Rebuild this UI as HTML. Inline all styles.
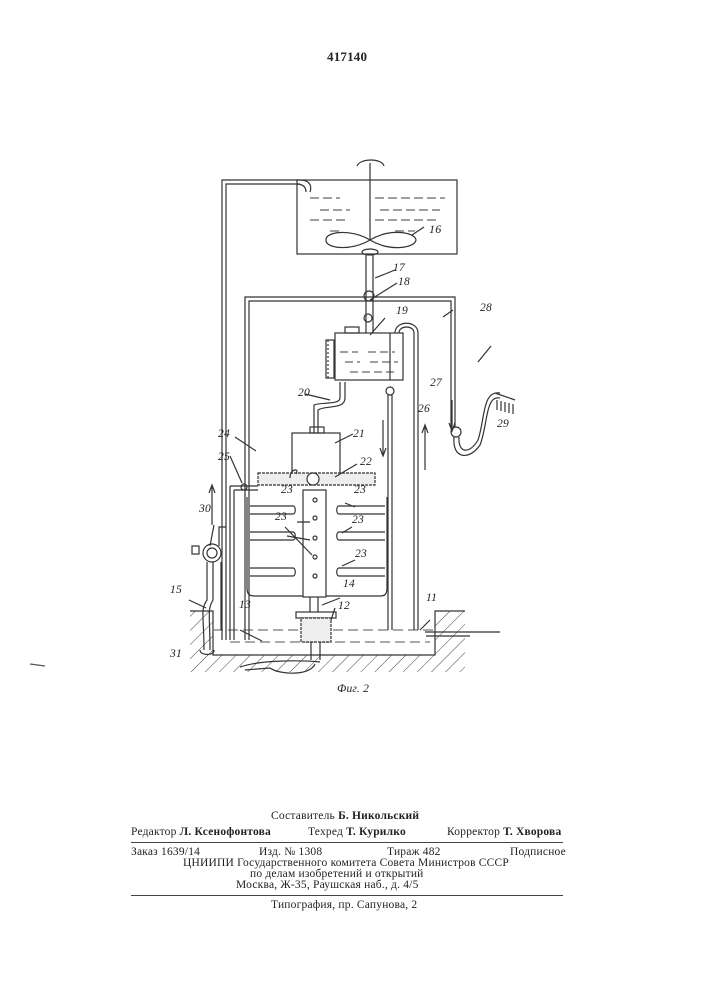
<!DOCTYPE html>
<html><head><meta charset="utf-8"><style>
html,body{margin:0;padding:0;background:#fff}
body{width:707px;height:1000px;position:relative;overflow:hidden;font-family:"Liberation Serif",serif;color:#222}
.t{position:absolute;white-space:nowrap;font-size:11.5px;letter-spacing:0.2px}
b{font-weight:bold}
</style></head><body>
<div class="t" style="left:327px;top:49px;font-size:13px;font-weight:bold">417140</div>
<svg width="707" height="1000" style="position:absolute;left:0;top:0" fill="none" stroke="#333" stroke-width="1.2" font-family="Liberation Sans, sans-serif" font-style="italic" font-size="11">
<defs><pattern id="h" width="10" height="10" patternUnits="userSpaceOnUse" patternTransform="rotate(45)"><line x1="0" y1="0" x2="0" y2="10" stroke="#444" stroke-width="1"/></pattern></defs>
<!-- ground -->
<path d="M190 611 H213 V655 H435 V611 H465 V672 H190 Z" fill="url(#h)" stroke="none"/>
<path d="M190 611 H213 V655 H435 V611 H465"/>
<path d="M213 630 H435 M230 642 H430" stroke-dasharray="10 5" stroke="#777"/>
<!-- tank 16 -->
<rect x="297" y="180" width="160" height="74"/>
<path d="M370 163 V240 M357 166 C360 158 382 158 384 166" />
<path d="M310 198 H340 M375 198 H445 M320 210 H350 M380 210 H440 M310 220 H345 M375 220 H440 M330 231 H340 M395 231 H415" stroke="#666" stroke-dasharray="9 4"/>
<path d="M370 240 C350 228 325 232 326 240 C325 248 350 252 370 240 C390 228 415 232 416 240 C415 248 390 252 370 240" />
<ellipse cx="370" cy="252" rx="8" ry="3"/>
<!-- pipe 17 -->
<path d="M366 255 V333 M373 255 V333"/>
<circle cx="369" cy="296" r="5"/><circle cx="368" cy="318" r="4"/>
<!-- left pipe 24 -->
<path d="M300 180 H222 V640 M300 184 H226 V640 M300 180 C310 180 312 186 310 192 M296 184 C304 184 306 188 306 192"/>
<!-- frame loop -->
<path d="M245 640 V297 H455 V427 M249 640 V301 H451 V427"/>
<circle cx="456" cy="432" r="5"/>
<path d="M454 437 C452 460 470 460 480 445 C488 425 485 395 500 398 M459 437 C458 454 470 454 478 440 C485 420 482 390 500 393"/>
<path d="M495 393 L515 400 M497 400 V410 M501 401 V411 M505 402 V412 M509 403 V413 M513 404 V414"/>
<!-- 19 box -->
<rect x="335" y="333" width="68" height="47"/>
<rect x="326" y="340" width="8" height="38"/><path d="M328 340 V378" stroke-dasharray="2 2"/>
<rect x="345" y="327" width="14" height="6"/>
<path d="M340 352 H358 M368 352 H395 M345 362 H360 M370 362 H398 M350 372 H398" stroke="#666" stroke-dasharray="8 4"/>
<!-- 26/27 pipes -->
<path d="M395 333 C395 320 418 320 418 333 V630 M399 333 C399 325 414 325 414 333 V630"/>
<circle cx="390" cy="391" r="4"/>
<path d="M388 395 V630 M392 395 V630"/>
<path d="M390 333 V380"/>
<path d="M383 420 V455 M380 448 L383 456 L386 448 M425 425 V470 M422 433 L425 425 L428 433 M452 400 V430 M449 423 L452 431 L455 423 M212 485 V525 M209 493 L212 485 L215 493"/>
<!-- 20 & 21 -->
<path d="M340 382 V398 C340 405 320 402 314 405 V433 M345 382 V398 C345 410 325 405 318 410 V433"/>
<rect x="292" y="433" width="48" height="42"/><rect x="310" y="427" width="14" height="6"/>
<!-- 22 plate -->
<rect x="258" y="473" width="117" height="12" fill="#eee" stroke-dasharray="3 1"/>
<circle cx="313" cy="479" r="6" fill="#fff"/>
<path d="M290 478 C290 468 300 468 296 474"/>
<!-- 25 -->
<path d="M230 486 H258 M234 490 H258 M230 486 V640 M234 490 V640"/>
<circle cx="244" cy="487" r="3"/>
<!-- 23 frame -->
<path d="M247 497 V588 C247 595 250 596 255 596 H303 M387 497 V588 C387 595 384 596 380 596 H326"/>
<rect x="303" y="490" width="23" height="107"/>
<g fill="#fff"><circle cx="315" cy="500" r="2"/><circle cx="315" cy="518" r="2"/><circle cx="315" cy="538" r="2"/><circle cx="315" cy="557" r="2"/><circle cx="315" cy="576" r="2"/></g>
<path d="M250 506 H293 C296 506 296 514 293 514 H250 M250 532 H293 C296 532 296 540 293 540 H250 M250 568 H293 C296 568 296 576 293 576 H250"/>
<path d="M339 506 H385 M339 514 H385 M339 506 C336 506 336 514 339 514 M339 532 H385 M339 540 H385 M339 532 C336 532 336 540 339 540 M339 568 H385 M339 576 H385 M339 568 C336 568 336 576 339 576"/>
<!-- shaft 14/12 -->
<path d="M310 597 V612 M318 597 V612"/>
<rect x="296" y="612" width="40" height="6"/>
<rect x="301" y="618" width="30" height="24" fill="#eee" stroke-dasharray="3 1"/>
<path d="M311 642 V660 M320 642 V660"/>
<!-- pump 30 & 15/31 -->
<circle cx="212" cy="553" r="9"/><circle cx="212" cy="553" r="5"/>
<rect x="192" y="546" width="7" height="8"/>
<path d="M219 546 V527 H226 M221 562 V630 M207 562 V600 C200 610 204 615 204 650 M213 562 V600 C207 610 210 615 210 650"/>
<path d="M200 650 C200 656 215 656 214 650"/>
<path d="M240 667 C260 660 300 660 320 662 M245 670 L270 668 C280 675 310 676 315 664"/>
<path d="M425 632 H470 M426 636 H470 M470 632 H500"/>
<!-- leaders -->
<path d="M424 227 L412 235 M395 270 L375 278 M397 283 L370 300 M385 318 L370 335 M453 310 L443 317 M305 394 L330 400 M353 434 L335 443 M357 464 L335 477 M235 437 L256 451 M230 456 L242 483 M214 525 L210 546 M189 600 L206 608 M240 630 L262 641 M312 555 L285 527 M287 536 L310 540 M297 522 L310 522 M355 507 L345 503 M352 527 L342 533 M355 560 L342 566 M340 598 L322 605 M335 608 L331 620 M430 620 L420 630 M491 346 L478 362"/>
<path d="M30 664 L45 666" stroke="#555"/>
</svg>
<div class="t" style="left:429px;top:222px;font-style:italic;font-size:12px">16</div>
<div class="t" style="left:393px;top:262px;font-style:italic">17</div>
<div class="t" style="left:398px;top:276px;font-style:italic">18</div>
<div class="t" style="left:396px;top:305px;font-style:italic">19</div>
<div class="t" style="left:480px;top:302px;font-style:italic">28</div>
<div class="t" style="left:430px;top:377px;font-style:italic">27</div>
<div class="t" style="left:418px;top:403px;font-style:italic">26</div>
<div class="t" style="left:497px;top:418px;font-style:italic">29</div>
<div class="t" style="left:298px;top:387px;font-style:italic">20</div>
<div class="t" style="left:353px;top:428px;font-style:italic">21</div>
<div class="t" style="left:360px;top:456px;font-style:italic">22</div>
<div class="t" style="left:218px;top:428px;font-style:italic">24</div>
<div class="t" style="left:218px;top:451px;font-style:italic">25</div>
<div class="t" style="left:281px;top:484px;font-style:italic">23</div>
<div class="t" style="left:354px;top:484px;font-style:italic">23</div>
<div class="t" style="left:275px;top:511px;font-style:italic">23</div>
<div class="t" style="left:352px;top:514px;font-style:italic">23</div>
<div class="t" style="left:355px;top:548px;font-style:italic">23</div>
<div class="t" style="left:199px;top:503px;font-style:italic">30</div>
<div class="t" style="left:343px;top:578px;font-style:italic">14</div>
<div class="t" style="left:170px;top:584px;font-style:italic">15</div>
<div class="t" style="left:239px;top:599px;font-style:italic">13</div>
<div class="t" style="left:338px;top:600px;font-style:italic">12</div>
<div class="t" style="left:426px;top:592px;font-style:italic">11</div>
<div class="t" style="left:170px;top:648px;font-style:italic">31</div>
<div class="t" style="left:337px;top:683px;font-style:italic">Фиг. 2</div>

<div class="t" style="left:271px;top:810px">Составитель <b>Б. Никольский</b></div>
<div class="t" style="left:131px;top:826px">Редактор <b>Л. Ксенофонтова</b></div>
<div class="t" style="left:308px;top:826px">Техред <b>Т. Курилко</b></div>
<div class="t" style="left:447px;top:826px">Корректор <b>Т. Хворова</b></div>
<div style="position:absolute;left:131px;top:842px;width:432px;border-top:1px solid #444"></div>
<div class="t" style="left:131px;top:846px">Заказ 1639/14</div>
<div class="t" style="left:259px;top:846px">Изд. № 1308</div>
<div class="t" style="left:387px;top:846px">Тираж 482</div>
<div class="t" style="left:510px;top:846px">Подписное</div>
<div class="t" style="left:183px;top:857px">ЦНИИПИ Государственного комитета Совета Министров СССР</div>
<div class="t" style="left:250px;top:868px">по делам изобретений и открытий</div>
<div class="t" style="left:236px;top:879px">Москва, Ж-35, Раушская наб., д. 4/5</div>
<div style="position:absolute;left:131px;top:895px;width:432px;border-top:1px solid #444"></div>
<div class="t" style="left:271px;top:899px">Типография, пр. Сапунова, 2</div>
</body></html>
